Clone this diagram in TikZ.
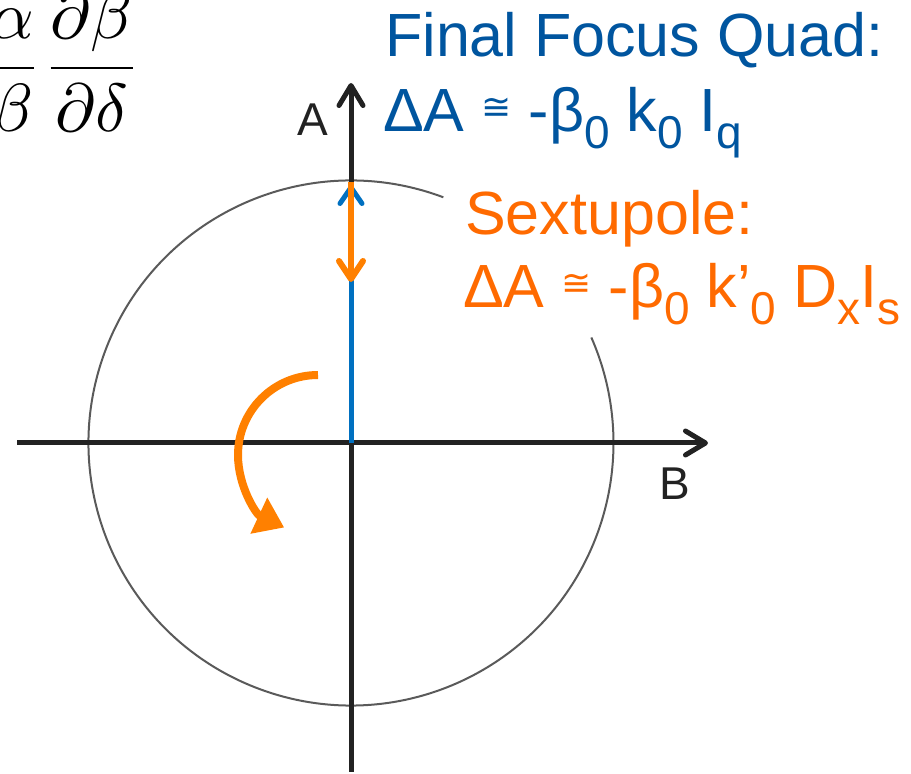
\documentclass[tikz,border=0pt]{standalone}
\usepackage{fontspec}
\setmainfont{Liberation Sans}
\newfontfamily\congfont{DejaVu Sans}
\usetikzlibrary{arrows.meta}

\definecolor{quadblue}{HTML}{00559F}
\definecolor{quadline}{HTML}{0070C0}
\definecolor{sextorange}{HTML}{FF6A00}
\definecolor{sextline}{HTML}{FF8000}
\definecolor{axisgray}{HTML}{222222}
\definecolor{ringgray}{HTML}{5A5A5A}

\newcommand{\lowsub}[1]{\raisebox{-17pt}{\fontsize{46}{46}\selectfont #1}}
\newcommand{\approxsign}{\raisebox{12pt}{\congfont\fontsize{36}{36}\selectfont ≅}}

\tikzset{
  axisline/.style={draw=axisgray, line width=5pt,
    -{Straight Barb[length=20pt,width=24pt,round]}},
  axistext/.style={font=\fontsize{46}{46}\selectfont, text=axisgray, inner sep=0pt},
  bigtext/.style={font=\fontsize{61}{61}\selectfont, inner sep=0pt, anchor=base west},
}

\begin{document}
\begin{tikzpicture}[x=1pt,y=1pt]
  \useasboundingbox (0,0) rectangle (911,774);

  \pgfmathsetmacro{\ringR}{262.5}
  \coordinate (O) at (351,331);
  \coordinate (Bstart) at (17,331);
  \coordinate (Bend) at (708,331);
  \coordinate (Astart) at (351,2);
  \coordinate (Aend) at (351,691);

  % phase space circle, open behind the sextupole text
  \draw[ringgray, line width=2pt] (O) ++(69.4:\ringR)
    arc[start angle=69.4, end angle=383.7, radius=\ringR];

  \draw[axisline] (Bstart) -- (Bend);
  \draw[axisline] (Astart) -- (Aend);
  \node[axistext, anchor=base] (Alab) at (313,638) {A};
  \node[axistext, anchor=base west] (Blab) at (659,274) {B};

  % kicks along A
  \coordinate (quadtip) at (351,589);
  \coordinate (sexttop) at (351,592);
  \coordinate (sexttip) at (351,492);
  \draw[quadline, line width=5pt,
    -{Straight Barb[length=16pt,width=22pt,round]}] (O) -- (quadtip);
  \draw[sextline, line width=6pt,
    -{Straight Barb[length=18pt,width=24pt,round]}] (sexttop) -- (sexttip);

  % phase advance
  \coordinate (turnstart) at (318,399);
  \draw[sextline, line width=8pt, -{Triangle[length=28pt,width=38pt]}]
    (turnstart) arc[start angle=90, end angle=245, radius=80];

  \node[inner sep=0pt, anchor=base east] (ratio) at (141,689)
    {\scalebox{6.8}{$\displaystyle\frac{\alpha}{\beta}\frac{\partial\beta}{\partial\delta}$}};

  \node[bigtext, text=quadblue] (quadhead) at (385,717) {Final Focus Quad:};
  \node[bigtext, text=quadblue] (quadform) at (383,642)
    {ΔA \approxsign{} -β\lowsub{0} k\lowsub{0} I\lowsub{q}};

  \node[bigtext, text=sextorange] (sexthead) at (465,539) {Sextupole:};
  \node[bigtext, text=sextorange] (sextform) at (463,466)
    {ΔA \approxsign{} -β\lowsub{0} k’\lowsub{0} D\lowsub{x}I\lowsub{s}};
\end{tikzpicture}
\end{document}
